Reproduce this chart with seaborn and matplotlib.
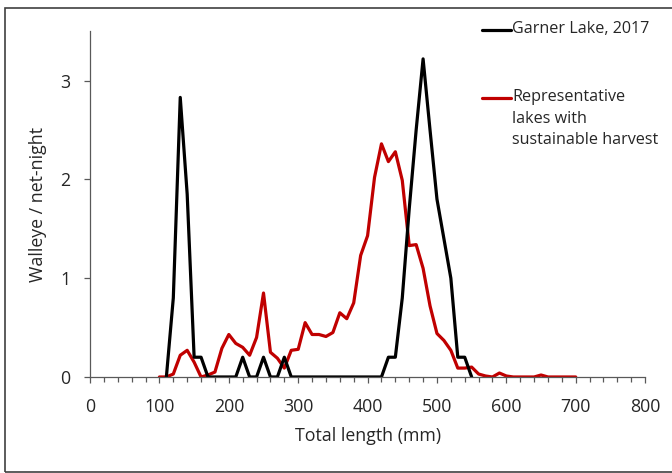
"""
Walleye length-frequency: Garner Lake 2017 vs representative lakes with sustainable harvest.
"""
import pandas as pd
import matplotlib
matplotlib.use("Agg")
import matplotlib.pyplot as plt
from matplotlib.lines import Line2D
from matplotlib.patches import Rectangle
from matplotlib.ticker import MultipleLocator
import seaborn as sns

# Garner Lake, 2017 (10-mm length bins)
garner_length = [110, 120, 130, 140, 150, 160, 170, 180, 190, 200, 210, 220, 230, 240,
                 250, 260, 270, 280, 290, 300, 310, 320, 330, 340, 350, 360, 370, 380,
                 390, 400, 410, 420, 430, 440, 450, 460, 470, 480, 490, 500, 510, 520,
                 530, 540, 550]
garner_cpue = [0, 0.8, 2.83, 1.85, 0.2, 0.2, 0, 0, 0, 0, 0, 0.2, 0, 0,
               0.2, 0, 0, 0.2, 0, 0, 0, 0, 0, 0, 0, 0, 0, 0,
               0, 0, 0, 0, 0.2, 0.2, 0.8, 1.7, 2.5, 3.22, 2.5, 1.8, 1.4, 1.0,
               0.2, 0.2, 0]

# Representative lakes with sustainable harvest
rep_length = list(range(100, 710, 10))
rep_cpue = [0, 0, 0.03, 0.22, 0.27, 0.15, 0.0, 0.02, 0.05, 0.29,
            0.43, 0.34, 0.3, 0.22, 0.4, 0.85, 0.25, 0.19, 0.09, 0.27,
            0.28, 0.55, 0.43, 0.43, 0.41, 0.45, 0.65, 0.59, 0.75, 1.23,
            1.43, 2.02, 2.36, 2.18, 2.28, 1.99, 1.33, 1.34, 1.1, 0.72,
            0.44, 0.37, 0.27, 0.09, 0.09, 0.1, 0.03, 0.01, 0.0, 0.04,
            0.01, 0, 0, 0, 0, 0.02, 0, 0, 0, 0,
            0]

labels = ["Garner Lake, 2017", "Representative\nlakes with\nsustainable harvest"]
colors = ["#000000", "#C00000"]

sns.set_style("ticks")
plt.rcParams['font.family'] = ['Open Sans', 'DejaVu Sans']
FS = 12.8
LEG_FS = 11.6
TXT = "#262626"

garner_df = pd.DataFrame({"length": garner_length, "cpue": garner_cpue})
rep_df = pd.DataFrame({"length": rep_length, "cpue": rep_cpue})

fig = plt.figure(figsize=(6.72, 4.73), dpi=100)
ax = fig.add_axes([0.134, 0.203, 0.826, 0.731])

sns.lineplot(data=rep_df, x="length", y="cpue", color=colors[1], lw=2.3, ax=ax)
sns.lineplot(data=garner_df, x="length", y="cpue", color=colors[0], lw=2.3, ax=ax)

ax.set_xlim(0, 800)
ax.set_ylim(0, 3.5)
ax.xaxis.set_major_locator(MultipleLocator(100))
ax.xaxis.set_minor_locator(MultipleLocator(20))
ax.set_yticks([0, 1, 2, 3])
ax.tick_params(axis="both", which="major", direction="out", length=4, width=0.9,
               color="#595959", labelsize=FS, labelcolor=TXT)
ax.tick_params(axis="x", which="minor", direction="out", length=3.5, width=0.9, color="#595959")
ax.tick_params(axis="x", pad=11)
ax.tick_params(axis="y", pad=10)

for side in ["top", "right"]:
    ax.spines[side].set_visible(False)
for side in ["left", "bottom"]:
    ax.spines[side].set_color("#595959")
    ax.spines[side].set_linewidth(0.9)

ax.set_xlabel("Total length (mm)", fontsize=FS, color=TXT, labelpad=8)
ax.set_ylabel("Walleye / net-night", fontsize=FS, color=TXT, labelpad=10)

# legend drawn by hand, handle aligned with the first line of each label
W, H = 672, 473
for lab, col, ytop in zip(labels, colors, [30, 98]):
    fig.add_artist(Line2D([482 / W, 511 / W], [1 - ytop / H, 1 - ytop / H],
                          color=col, lw=2.3, transform=fig.transFigure))
    fig.text(512 / W, 1 - (ytop - 9) / H, lab, fontsize=LEG_FS, color=TXT,
             va="top", ha="left", linespacing=1.47, transform=fig.transFigure)

# chart-area border
fig.add_artist(Rectangle((5 / W, 1.5 / H), 1.0, (473 - 9.5) / H, fill=False,
                         edgecolor="#404040", lw=1.2, transform=fig.transFigure))

fig.savefig("out.png", dpi=100)
plt.close(fig)
